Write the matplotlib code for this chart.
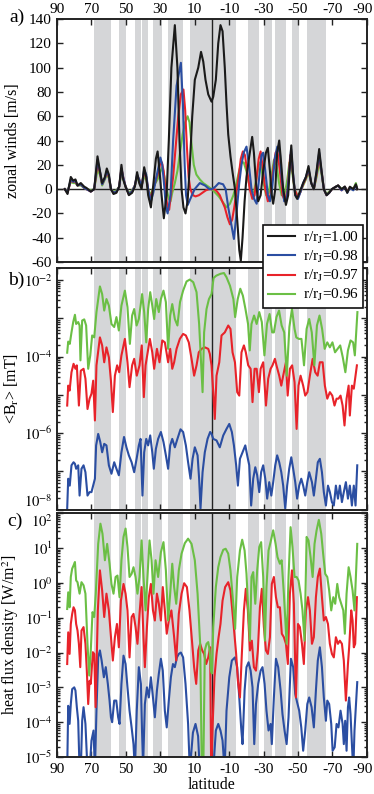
import numpy as np
import matplotlib
matplotlib.use("Agg")
import matplotlib.pyplot as plt
from matplotlib.transforms import ScaledTranslation

plt.rcParams['font.family'] = ['Liberation Serif', 'DejaVu Serif']
plt.rcParams['mathtext.fontset'] = 'stix'
plt.rcParams['axes.unicode_minus'] = False

# ---------------- data ----------------
tick_lats = [90, 70, 50, 30, 10, -10, -30, -50, -70, -90]
tick_labels = ['90', '70', '50', '30', '10', '-10', '-30', '-50', '-70', '-90']
belts = [(68.5, 58.6), (53.8, 49.9), (44.9, 41.4), (40.5, 37.3), (34.1, 29.2),
         (25.5, 17.0), (12.8, -13.9), (-21.1, -27.1), (-30.0, -34.8),
         (-36.4, -42.8), (-46.5, -50.7), (-55.2, -66.2)]
series_labels = ['r/r$_\\mathrm{J}$=1.00', 'r/r$_\\mathrm{J}$=0.98',
                 'r/r$_\\mathrm{J}$=0.97', 'r/r$_\\mathrm{J}$=0.96']
colors = ['#1a1a1a', '#2b4ea2', '#e8232a', '#6bbf45']

# panel a: zonal winds [m/s]
wind_lat_100 = [85.4, 83.8, 81.9, 80.5, 79.2, 78.0, 76.1, 74.1, 72.8, 70.3, 68.3, 66.4, 65.0, 63.7, 62.1,
                61.0, 59.8, 58.6, 57.1, 55.4, 53.8, 52.5, 51.5, 50.1, 48.2, 46.3, 44.7, 43.4, 42.2, 40.8,
                39.3, 38.1, 37.0, 35.4, 33.9, 32.5, 31.5, 30.4, 29.2, 27.9, 26.3, 25.0, 23.5, 21.5, 20.0,
                18.8, 17.6, 16.5, 15.3, 14.1, 12.8, 11.4, 9.9, 7.9, 6.3, 5.0, 3.7, 2.1, 0.2, -0.8,
                -2.3, -3.7, -5.0, -6.2, -7.5, -8.5, -9.5, -10.8, -12.0, -13.4, -14.7, -15.9, -16.8, -17.8, -19.0,
                -20.1, -21.5, -23.4, -24.4, -25.6, -26.9, -28.3, -29.8, -31.4, -32.5, -33.7, -34.8, -35.6, -36.8, -37.9,
                -39.1, -40.3, -41.4, -43.0, -44.3, -45.3, -46.1, -47.2, -48.4, -49.5, -51.1, -53.0, -54.6, -56.1, -57.7,
                -59.2, -60.8, -62.3, -63.7, -65.0, -66.6, -68.1, -69.7, -72.0, -73.3, -75.3, -77.2, -78.6, -80.1, -82.1,
                -83.6, -84.4]
wind_100 = [0, -4, 10, 7, 8, 3, 5, 2, 1, -2, 0, 27, 15, 5, 10,
            17, 12, 0, -4, -3, 2, 20, 8, 2, -5, -3, 2, 14, 5, 0,
            18, 10, -5, -15, 5, 25, 31, 15, -5, -24, -5, 40, 100, 135, 100,
            40, 0, -15, -20, -10, 20, 60, 90, 100, 113, 105, 90, 78, 72, 76,
            90, 120, 135, 130, 100, 70, 45, 27, 14, 0, -25, -50, -59, -40, -10,
            10, 25, 43, 30, 5, -10, -5, 15, 30, 34, 15, -5, -12, 0, 30,
            40, 20, 0, -13, -5, 20, 36, 10, -5, -8, -2, 5, 10, 19, 5,
            0, 15, 33, 15, 0, -5, -3, 0, 2, 3, 0, 2, -3, 2, 0,
            4, 0]

wind_lat_098 = [85.4, 83.8, 81.9, 80.5, 79.2, 78.0, 76.1, 74.1, 72.8, 70.3, 68.3, 66.4, 65.0, 63.7, 62.1,
                61.0, 59.8, 58.6, 57.1, 55.4, 53.8, 52.5, 51.5, 50.1, 48.2, 46.3, 44.7, 43.4, 42.2, 40.8,
                39.3, 38.1, 37.0, 35.4, 34.0, 32.5, 31.0, 29.9, 28.8, 27.5, 26.8, 25.7, 24.0, 22.5, 20.5,
                18.0, 16.8, 15.8, 15.0, 14.0, 12.5, 10.0, 7.0, 4.0, 1.5, 0.0, -2.0, -4.0, -6.5, -8.0,
                -9.5, -11.4, -12.8, -14.3, -15.9, -17.2, -18.5, -20.1, -21.5, -23.0, -24.5, -26.0, -27.5, -28.8, -29.8,
                -31.0, -32.5, -33.7, -35.0, -36.5, -38.0, -39.5, -40.5, -42.0, -43.5, -45.0, -46.0, -47.0, -48.4, -50.0,
                -51.5, -53.0, -54.6, -56.1, -57.7, -59.2, -60.8, -62.3, -63.7, -65.0, -66.6, -68.1, -69.7, -72.0, -73.3,
                -75.3, -77.2, -78.6, -80.1, -82.1, -83.6, -84.4]
wind_098 = [0, -3, 8, 6, 7, 3, 4, 1, 0, -2, 0, 24, 15, 4, 9,
            15, 11, 0, -3, -2, 2, 17, 10, 2, -4, -2, 3, 12, 8, 2,
            16, 12, 0, -10, -3, 8, 18, 26, 20, 0, -14, -20, -5, 40, 85,
            104, 70, 20, -5, -13, -8, 0, 5, 3, 0, 0, 2, 5, 4, 0,
            -15, -30, -41, -20, 5, 20, 30, 35, 20, 0, -8, -12, 10, 28, 30,
            15, -5, -10, 0, 25, 35, 30, 10, -10, -8, 15, 33, 15, -5, -8,
            -2, 5, 10, 17, 5, 0, 14, 30, 14, 0, -5, -3, 0, 2, 3,
            -1, 2, -3, 1, -1, 3, 0]

wind_lat_097 = [85.4, 83.8, 81.9, 80.5, 79.2, 78.0, 76.1, 74.1, 72.8, 70.3, 68.3, 66.4, 65.0, 63.7, 62.1,
                61.0, 59.8, 58.6, 57.1, 55.4, 53.8, 52.5, 51.5, 50.1, 48.2, 46.3, 44.7, 43.4, 42.2, 40.8,
                39.3, 38.1, 37.0, 35.8, 34.5, 33.0, 31.5, 30.2, 29.0, 28.0, 27.0, 25.8, 24.8, 23.8, 22.5,
                21.0, 19.5, 18.0, 16.5, 15.5, 14.5, 13.5, 12.5, 11.0, 9.5, 7.5, 5.5, 3.5, 1.5, 0.0,
                -1.5, -3.0, -4.6, -6.0, -7.5, -9.0, -10.5, -11.8, -13.0, -14.3, -15.5, -16.8, -18.0, -19.2, -20.5,
                -22.0, -23.5, -24.8, -26.0, -27.2, -28.3, -29.5, -31.0, -32.5, -34.0, -35.5, -37.0, -38.0, -39.5, -41.0,
                -42.5, -44.0, -45.5, -46.5, -48.0, -50.0, -51.5, -53.0, -54.6, -56.1, -57.7, -59.2, -60.8, -62.3, -63.7,
                -65.0, -66.6, -68.1, -69.7, -72.0, -73.3, -75.3, -77.2, -78.6, -80.1, -82.1, -83.6, -84.4]
wind_097 = [0, -3, 7, 6, 6, 3, 4, 1, 0, -2, 0, 21, 14, 4, 9,
            14, 10, 0, -3, -2, 2, 17, 10, 2, -4, -2, 3, 11, 8, 2,
            14, 10, 0, -8, -2, 5, 12, 20, 22, 15, 0, -15, -17, -5, 10,
            35, 60, 78, 82, 65, 35, 10, 0, -5, -6, -5, -3, -1, 0, 0,
            0, -2, -5, -10, -15, -23, -29, -25, -15, -2, 10, 25, 31, 28, 15,
            0, -8, -5, 10, 25, 31, 18, 0, -10, -5, 15, 30, 32, 15, -5,
            -10, 0, 28, 20, 0, -7, -2, 4, 9, 16, 5, 0, 12, 27, 14,
            0, -5, -3, 0, 2, 3, -1, 2, -2, 1, 0, 3, 0]

wind_lat_096 = [85.4, 83.8, 81.9, 80.5, 79.2, 78.0, 76.1, 74.1, 72.8, 70.3, 68.3, 66.4, 65.0, 63.7, 62.1,
                61.0, 59.8, 58.6, 57.1, 55.4, 53.8, 52.5, 51.5, 50.1, 48.2, 46.3, 44.7, 43.4, 42.2, 40.8,
                39.3, 38.1, 37.0, 35.8, 34.3, 32.8, 31.5, 30.0, 28.7, 27.5, 26.3, 25.0, 24.0, 23.0, 21.5,
                20.0, 18.5, 17.0, 15.5, 14.1, 13.0, 12.0, 10.5, 9.0, 7.0, 5.0, 3.0, 1.0, 0.0, -2.0,
                -4.0, -6.0, -8.5, -10.5, -12.5, -14.3, -15.8, -17.2, -18.5, -20.0, -21.5, -23.0, -24.5, -26.0, -27.5,
                -28.5, -30.0, -31.5, -33.0, -34.5, -36.0, -37.5, -39.0, -40.5, -42.0, -43.5, -45.0, -46.5, -48.0, -50.0,
                -51.5, -53.0, -54.6, -56.1, -57.7, -59.2, -60.8, -62.3, -63.7, -65.0, -66.6, -68.1, -69.7, -72.0, -73.3,
                -75.3, -77.2, -78.6, -80.1, -82.1, -83.6, -84.4]
wind_096 = [0, -2, 6, 5, 5, 3, 3, 1, 0, -1, 0, 16, 12, 3, 8,
            12, 9, 0, -2, -1, 2, 14, 9, 2, -3, -1, 3, 9, 7, 3,
            10, 8, 0, -5, 0, 5, 8, 14, 18, 10, 0, -8, -10, -3, 5,
            15, 30, 45, 55, 60, 55, 40, 20, 12, 8, 5, 3, 1, 0, -3,
            -6, -10, -15, -12, -5, 5, 15, 22, 22, 15, 5, -3, -2, 10, 22,
            20, 5, -5, -3, 10, 24, 20, 5, -5, -5, 5, 22, 15, 0, -6,
            -2, 3, 8, 14, 5, 0, 10, 22, 12, 0, -4, -2, 0, 2, 3,
            0, 2, -2, 1, 0, 5, 0]

# panel b: <B_r> [mT], stored as log10 values
br_lat_098 = [84.0, 83.4, 82.5, 81.5, 80.3, 79.5, 78.8, 77.6, 76.8, 75.7, 74.5, 73.4, 72.2, 71.0, 69.9,
              68.9, 67.9, 67.2, 66.0, 64.8, 63.7, 62.5, 61.2, 59.8, 58.3, 56.7, 55.4, 54.0, 52.5, 51.0,
              49.6, 48.2, 46.6, 45.1, 43.7, 42.4, 41.4, 40.3, 39.3, 38.1, 37.0, 35.8, 34.6, 33.7, 32.5,
              31.2, 29.6, 28.1, 26.7, 25.4, 24.2, 23.0, 21.5, 20.0, 18.2, 16.7, 15.1, 13.8, 12.4, 11.2,
              9.9, 8.3, 7.4, 6.6, 5.4, 4.1, 2.5, 1.0, 0.2, -0.8, -2.7, -4.6, -6.6, -8.5, -10.1,
              -11.6, -12.8, -14.1, -15.1, -16.3, -17.8, -19.4, -20.5, -21.7, -22.8, -24.0, -25.2, -26.3, -27.5, -28.6,
              -29.8, -31.0, -32.1, -33.3, -34.5, -35.6, -36.8, -37.9, -39.1, -40.3, -41.4, -42.6, -43.7, -44.9, -46.1,
              -47.2, -48.4, -49.5, -50.7, -51.9, -53.0, -54.2, -55.4, -56.5, -58.1, -59.2, -60.4, -61.5, -62.7, -63.9,
              -65.0, -66.2, -67.4, -68.5, -69.7, -70.8, -72.0, -73.2, -74.3, -75.5, -76.6, -77.8, -79.0, -80.1, -81.3,
              -82.4, -83.4, -84.4]
br_log_098 = [-7.97, -7.19, -7.37, -6.84, -6.76, -6.80, -6.93, -6.84, -7.63, -6.93, -6.84, -7.02, -7.63, -7.54, -7.54,
              -7.37, -7.19, -6.32, -6.02, -6.23, -6.50, -6.28, -6.32, -6.84, -7.06, -6.76, -6.93, -7.10, -6.50, -6.10,
              -6.37, -6.58, -6.76, -7.02, -6.67, -6.32, -6.15, -7.63, -6.50, -6.15, -6.32, -6.06, -6.50, -6.93, -6.41,
              -6.15, -5.97, -6.23, -6.58, -6.93, -6.32, -6.15, -6.37, -6.15, -5.90, -5.97, -6.32, -6.76, -7.19, -6.67,
              -6.37, -6.58, -7.19, -7.97, -7.02, -6.50, -6.15, -5.97, -6.02, -6.15, -6.19, -6.37, -6.06, -5.89, -5.76,
              -5.97, -6.32, -6.84, -7.37, -6.67, -6.50, -6.32, -6.58, -6.84, -7.89, -7.19, -6.89, -7.10, -7.54, -7.02,
              -6.84, -7.19, -7.71, -7.28, -7.63, -7.28, -6.84, -6.58, -6.76, -7.02, -7.37, -7.97, -7.37, -6.93, -6.63,
              -6.93, -7.28, -7.71, -7.37, -7.19, -7.37, -7.63, -7.28, -7.02, -7.28, -7.63, -7.19, -6.76, -6.67, -7.02,
              -7.54, -7.89, -7.37, -7.54, -7.80, -7.89, -7.37, -7.71, -7.37, -7.80, -7.54, -7.28, -7.71, -7.37, -7.89,
              -7.37, -7.89, -6.84]

br_lat_097 = [84.0, 83.4, 82.6, 81.5, 80.3, 79.2, 78.4, 77.2, 76.1, 74.5, 73.4, 72.2, 71.0, 69.9, 68.9,
              67.9, 67.0, 65.0, 63.7, 62.5, 61.2, 59.8, 58.6, 57.5, 56.3, 55.0, 53.8, 52.5, 50.5, 49.0,
              47.8, 46.3, 45.1, 43.6, 42.0, 40.7, 39.5, 38.5, 37.3, 36.0, 34.6, 33.5, 31.9, 30.4, 28.8,
              27.3, 25.4, 24.2, 23.0, 21.9, 20.5, 18.6, 16.7, 15.1, 13.4, 11.8, 10.3, 8.9, 7.6, 6.0,
              4.1, 2.1, 1.2, 0.2, -0.8, -1.7, -2.7, -4.3, -5.6, -7.5, -9.5, -10.8, -12.0, -13.4, -14.7,
              -15.9, -17.2, -18.6, -19.7, -21.1, -22.5, -23.6, -24.8, -26.0, -27.3, -28.3, -29.8, -31.4, -32.7, -34.1,
              -35.2, -36.6, -37.5, -39.1, -40.3, -41.4, -43.0, -44.0, -45.3, -46.6, -48.0, -49.2, -50.3, -51.5, -53.0,
              -54.2, -55.5, -56.9, -58.5, -60.0, -61.4, -62.7, -64.3, -65.6, -67.0, -68.5, -69.9, -71.2, -72.4, -73.5,
              -74.7, -75.9, -77.0, -78.2, -79.4, -80.1, -81.3, -82.4, -83.4, -84.2]
br_log_097 = [-5.28, -4.76, -4.89, -4.41, -4.19, -4.32, -4.23, -5.28, -4.37, -4.32, -4.58, -5.37, -5.10, -4.97, -4.63,
              -5.67, -4.23, -3.50, -3.71, -4.15, -3.76, -4.02, -4.63, -5.45, -4.50, -4.23, -4.41, -3.97, -3.54, -4.15,
              -4.80, -4.23, -4.06, -4.50, -4.23, -3.71, -5.06, -4.23, -3.89, -3.54, -3.89, -4.32, -3.80, -4.15, -3.58,
              -3.63, -4.15, -3.80, -4.32, -4.15, -3.80, -3.54, -3.41, -3.45, -3.63, -4.06, -4.50, -4.23, -3.89, -3.80,
              -3.76, -3.80, -3.93, -4.23, -4.93, -5.63, -4.50, -4.15, -3.45, -3.37, -3.19, -3.28, -3.89, -4.15, -4.93,
              -5.02, -3.89, -3.71, -3.89, -4.23, -4.32, -5.19, -4.32, -4.32, -4.93, -4.32, -4.15, -5.28, -4.58, -4.32,
              -4.23, -4.06, -4.23, -4.50, -4.76, -4.50, -4.15, -5.02, -4.32, -4.23, -4.67, -5.89, -4.76, -4.50, -4.76,
              -5.02, -4.93, -4.50, -4.06, -4.41, -4.50, -4.15, -4.15, -4.76, -5.10, -4.93, -5.02, -5.28, -5.10, -5.10,
              -5.02, -5.28, -5.80, -5.10, -4.76, -5.54, -4.76, -4.84, -4.50, -4.23]

br_lat_096 = [84.0, 83.4, 82.5, 81.5, 80.5, 79.5, 78.8, 77.6, 76.8, 76.3, 75.3, 74.1, 73.0, 71.8, 70.6,
              69.5, 68.3, 67.0, 65.0, 63.7, 62.5, 61.2, 59.8, 58.3, 56.7, 55.4, 54.0, 52.5, 50.5, 49.0,
              47.6, 46.3, 45.1, 43.7, 42.4, 40.5, 39.3, 38.1, 37.0, 35.8, 34.6, 33.5, 32.3, 30.8, 29.6,
              28.1, 26.7, 25.4, 24.2, 23.0, 21.5, 20.0, 18.5, 16.7, 14.7, 12.8, 10.8, 8.9, 7.4, 5.4,
              4.5, 3.1, 1.7, 0.2, -1.0, -2.5, -5.0, -7.0, -8.5, -10.5, -12.5, -13.5, -15.0, -16.5, -18.0,
              -19.5, -21.0, -22.0, -23.0, -24.5, -26.0, -27.5, -29.0, -30.5, -32.0, -33.5, -35.0, -36.0, -37.5, -39.0,
              -40.5, -42.0, -43.5, -45.0, -46.5, -48.0, -49.0, -50.5, -52.0, -53.5, -55.0, -56.5, -58.0, -59.5, -61.0,
              -62.5, -64.0, -65.5, -67.0, -68.5, -70.0, -71.5, -73.0, -74.5, -76.0, -77.5, -79.0, -80.5, -82.0, -83.0,
              -84.5]
br_log_096 = [-3.90, -3.61, -3.67, -3.37, -3.10, -2.91, -3.15, -3.10, -3.19, -4.10, -3.06, -3.03, -3.19, -4.32, -3.97,
              -3.45, -3.50, -2.84, -2.17, -2.37, -2.80, -2.50, -2.67, -3.15, -3.23, -2.97, -3.32, -2.67, -2.28, -2.71,
              -3.67, -2.93, -2.76, -3.19, -3.02, -2.37, -2.84, -3.63, -2.76, -2.32, -2.67, -3.02, -2.50, -2.84, -2.50,
              -2.28, -2.58, -3.80, -2.93, -2.63, -3.02, -3.19, -2.58, -2.28, -2.04, -1.99, -2.06, -2.32, -3.15, -4.93,
              -3.37, -2.76, -2.50, -2.37, -1.95, -1.89, -1.84, -1.82, -1.93, -2.15, -2.50, -2.97, -2.50, -2.23, -2.41,
              -2.76, -3.15, -3.84, -3.15, -2.93, -3.15, -2.84, -3.10, -3.97, -3.15, -2.89, -3.37, -3.37, -2.97, -2.80,
              -3.19, -3.37, -4.50, -3.23, -2.76, -3.28, -3.50, -3.54, -3.54, -4.23, -3.28, -3.02, -3.37, -4.23, -3.19,
              -2.93, -3.28, -3.80, -3.63, -3.76, -3.63, -3.89, -3.80, -3.71, -4.02, -4.41, -3.84, -3.58, -3.63, -3.97,
              -2.84]

# panel c: heat flux density [W/m^2], stored as log10 values
hf_lat_098 = [84.0, 83.4, 82.6, 81.9, 81.1, 79.9, 79.2, 78.4, 77.6, 76.8, 76.1, 75.3, 74.5, 73.4, 72.2,
              71.0, 69.9, 68.7, 67.9, 67.0, 66.0, 65.0, 64.0, 62.7, 61.6, 60.4, 59.4, 58.6, 57.9, 56.7,
              55.5, 54.4, 53.6, 52.5, 51.3, 50.1, 49.0, 47.8, 46.6, 45.5, 44.7, 43.6, 42.4, 41.2, 40.0,
              38.9, 37.7, 36.6, 35.4, 34.2, 33.1, 31.9, 30.8, 29.6, 28.5, 27.3, 26.2, 25.0, 23.8, 22.6,
              21.5, 20.3, 19.2, 18.0, 16.7, 15.3, 13.8, 12.8, 11.0, 9.5, 8.0, 7.0, 1.0, -0.8, -2.3,
              -3.7, -5.0, -6.2, -7.4, -8.5, -10.1, -11.6, -13.4, -14.7, -15.9, -17.0, -17.8, -19.0, -20.1, -21.3,
              -22.5, -23.6, -24.6, -25.6, -26.9, -28.3, -29.4, -30.6, -31.7, -32.9, -34.1, -34.8, -36.0, -37.2, -38.5,
              -39.9, -41.0, -42.2, -43.4, -44.5, -45.9, -47.2, -48.4, -49.5, -50.7, -51.9, -53.0, -54.2, -55.4, -56.5,
              -57.9, -59.2, -60.4, -61.5, -62.7, -63.9, -65.0, -66.2, -67.0, -68.1, -69.3, -70.1, -71.3, -72.4, -73.5,
              -74.7, -75.9, -76.6, -77.4, -78.2, -79.0, -79.7, -80.5, -81.3, -82.1, -82.8, -83.6, -84.4]
hf_log_098 = [-5.4, -3.53, -4.05, -3.48, -3.05, -3.00, -3.09, -3.57, -3.96, -5.4, -5.4, -3.96, -3.57, -4.05, -5.4,
              -5.4, -4.53, -4.24, -5.4, -3.67, -2.14, -1.94, -2.23, -2.71, -2.42, -2.90, -3.38, -3.86, -4.00, -3.38,
              -3.38, -3.86, -4.05, -2.90, -2.09, -2.33, -3.00, -3.67, -4.15, -4.63, -5.4, -3.67, -2.42, -2.90, -5.4,
              -3.48, -3.00, -3.29, -2.71, -3.29, -3.86, -3.09, -2.61, -2.18, -2.52, -3.67, -4.15, -3.38, -2.71, -2.33,
              -2.42, -2.14, -2.04, -2.00, -2.14, -2.90, -4.05, -5.4, -4.30, -4.05, -4.40, -5.4, -5.4, -5.4, -4.24,
              -4.05, -4.24, -4.53, -5.4, -3.67, -2.71, -2.23, -2.14, -2.42, -3.29, -4.15, -4.63, -3.09, -2.42, -2.28,
              -2.52, -3.00, -4.63, -3.48, -2.90, -2.52, -2.42, -2.90, -3.67, -4.24, -4.05, -4.63, -3.29, -2.18, -2.42,
              -3.09, -3.77, -4.24, -4.63, -3.86, -2.18, -2.42, -3.19, -3.43, -3.67, -4.15, -4.82, -4.24, -3.48, -3.29,
              -3.57, -4.15, -3.09, -2.23, -1.85, -2.42, -3.29, -3.96, -3.38, -3.48, -4.05, -4.82, -4.72, -4.05, -4.15,
              -3.67, -4.05, -4.63, -3.96, -4.82, -3.57, -3.29, -3.77, -4.63, -5.4, -4.24, -3.57, -2.85]

hf_lat_097 = [84.0, 83.4, 82.6, 81.9, 81.1, 80.3, 79.5, 78.8, 78.0, 77.2, 76.4, 75.7, 74.5, 73.4, 72.6,
              71.8, 71.0, 70.3, 69.1, 68.3, 67.5, 66.2, 65.0, 63.7, 62.5, 61.2, 59.8, 58.6, 57.5, 56.3,
              55.1, 54.0, 52.8, 51.3, 50.1, 49.0, 47.8, 46.6, 45.5, 44.3, 43.2, 42.0, 40.8, 39.7, 38.9,
              37.7, 36.6, 35.4, 34.2, 33.1, 31.9, 30.8, 29.6, 28.5, 27.3, 26.2, 25.0, 23.5, 21.9, 20.7,
              19.2, 17.6, 16.1, 14.5, 13.0, 11.4, 10.3, 9.1, 7.9, 6.8, 5.6, 4.5, 3.3, 2.1, 1.0,
              0.4, -0.4, -1.5, -2.7, -3.9, -5.0, -6.2, -7.7, -9.5, -10.8, -12.4, -14.1, -15.1, -16.3, -17.4,
              -18.6, -19.7, -20.9, -22.1, -23.2, -24.4, -25.6, -26.7, -27.9, -29.0, -30.2, -31.4, -32.5, -33.7, -34.8,
              -36.0, -37.2, -38.3, -39.5, -40.6, -41.8, -43.0, -44.1, -45.3, -46.5, -47.6, -48.8, -50.0, -51.1, -52.3,
              -53.4, -54.6, -55.8, -56.9, -58.1, -59.2, -60.4, -61.5, -62.7, -63.9, -65.0, -66.2, -67.4, -68.5, -69.7,
              -70.8, -72.0, -73.2, -74.3, -75.5, -76.6, -77.8, -79.0, -79.7, -80.9, -81.7, -82.4, -83.2, -84.2]
hf_log_097 = [-2.33, -1.42, -2.04, -1.18, -0.89, -0.70, -0.79, -1.18, -1.37, -1.75, -2.42, -1.37, -1.27, -1.75, -2.52,
              -3.48, -2.81, -2.90, -1.99, -2.04, -3.57, -0.79, 0.36, -0.22, -0.98, -0.31, -0.79, -1.56, -2.23, -1.56,
              -1.18, -1.85, -0.51, -0.03, -0.31, -0.79, -2.14, -0.98, -0.89, -1.27, -1.75, -0.89, -0.12, -1.56, -2.42,
              -1.27, -0.41, -0.03, -0.79, -1.08, -0.31, -0.60, -1.08, -0.12, -0.79, -1.46, -1.08, -0.79, -1.56, -2.23,
              -0.89, -0.31, -0.01, -0.12, -0.79, -1.75, -2.42, -2.90, -1.94, -1.75, -1.94, -2.04, -2.33, -2.14, -1.85,
              -5.5, -4.15, -2.71, -2.04, -1.56, -1.18, -0.51, -0.12, 0.02, -0.22, -1.08, -2.04, -2.81, -3.29, -2.04,
              -0.79, -0.17, -0.79, -1.94, -1.66, -2.42, -2.52, -1.94, -0.70, -0.17, -1.27, -1.94, -2.04, -1.56, -0.03,
              0.17, -0.41, -0.70, -0.70, -1.46, -1.56, -1.75, -2.33, -0.31, 0.36, -0.60, -3.29, -1.18, -1.27, -1.75,
              -2.33, -0.79, -0.41, -0.79, -1.75, -1.56, -0.41, 0.17, 0.41, -0.41, -1.08, -0.98, -1.18, -1.75, -2.04,
              -2.14, -1.56, -1.75, -1.66, -1.75, -2.23, -3.38, -2.33, -1.85, -0.79, -1.08, -1.85, -1.75, -0.41]

hf_lat_096 = [84.0, 83.4, 82.6, 81.9, 81.1, 80.3, 79.5, 78.8, 78.0, 76.8, 75.7, 74.5, 73.4, 72.2, 71.2,
              70.3, 69.3, 68.3, 67.4, 66.0, 64.7, 63.5, 62.1, 60.8, 59.4, 58.3, 57.1, 55.9, 54.8, 53.6,
              52.5, 51.3, 50.1, 49.0, 47.8, 46.6, 45.5, 44.3, 43.2, 42.0, 40.8, 39.7, 38.5, 37.4, 36.2,
              35.0, 33.9, 32.7, 31.2, 29.6, 28.1, 26.7, 25.4, 24.2, 23.0, 21.9, 20.7, 19.2, 17.6, 15.7,
              13.8, 11.8, 9.9, 8.3, 6.8, 5.8, 5.0, 4.1, 3.1, 2.1, 1.3, 0.5, 0.0, -0.8, -2.3,
              -3.7, -5.0, -6.6, -8.0, -9.5, -10.8, -12.4, -13.5, -14.7, -16.3, -17.6, -19.0, -20.1, -21.3, -22.1,
              -23.0, -24.0, -25.2, -26.3, -27.5, -28.6, -29.8, -30.8, -31.7, -32.9, -34.3, -35.6, -37.0, -38.1, -39.5,
              -40.5, -41.8, -43.4, -44.5, -45.7, -46.8, -48.0, -49.2, -50.3, -51.5, -52.6, -53.8, -55.0, -56.1, -57.3,
              -58.5, -59.6, -60.8, -62.1, -63.5, -64.6, -65.8, -67.0, -68.1, -69.3, -70.5, -71.6, -72.8, -73.9, -75.1,
              -76.3, -77.2, -78.2, -79.4, -80.5, -81.7, -82.8, -83.6, -84.4]
hf_log_096 = [-0.75, -0.27, -0.70, 0.17, 0.41, 0.50, 0.60, 0.07, 0.02, -0.31, 0.02, -0.07, -0.31, -1.75, -2.66,
              -1.94, -0.84, -0.98, -0.31, 1.12, 1.70, 1.41, 0.65, 1.12, 0.55, -0.03, -0.31, 0.17, 0.21, -0.41,
              0.65, 1.32, 1.56, 1.03, 0.17, 0.26, 0.45, 0.17, -0.31, 0.17, 1.22, 0.17, -0.79, 0.17, 1.22,
              0.65, -0.31, 0.65, 0.17, 0.88, 1.17, 0.36, -1.08, -0.31, 0.55, -0.12, -0.60, 0.36, 0.84, 1.14,
              1.27, 1.12, 0.65, -0.31, -1.75, -5.5, -5.5, -1.94, -1.75, -1.70, -1.94, -2.52, -2.60, -1.27, -0.12,
              0.45, 0.74, 0.95, 0.98, 0.84, 0.36, -0.60, -1.32, 0.17, 0.93, 1.24, 0.93, 0.26, -0.98, -1.66,
              0.17, 0.31, -0.60, 0.36, 1.03, 1.17, 0.17, -1.66, -0.12, 0.93, 1.22, 1.51, 1.12, 0.74, 0.55,
              0.65, -0.31, -1.75, 0.17, 1.60, 1.03, 0.17, 0.17, 0.07, -0.31, -0.79, -1.66, 1.32, 1.22, 0.74,
              0.17, 1.12, 1.51, 1.81, 1.41, 0.84, 0.26, 0.17, -0.22, -0.79, -0.41, -0.60, -0.03, -0.41, -0.60,
              -0.79, -1.46, -0.31, 0.45, 0.17, -0.22, -0.79, 0.17, 1.12]

# ---------------- figure ----------------
W, H = 374, 794
fig = plt.figure(figsize=(W / 100, H / 100), dpi=100)
ax_a = fig.add_axes([0.152, 0.670, 0.829, 0.306])
ax_b = fig.add_axes([0.152, 0.358, 0.829, 0.305])
ax_c = fig.add_axes([0.152, 0.0466, 0.829, 0.307])

belt_color = '#d5d6d8'
lw = 1.5
fs = 11

for ax in (ax_a, ax_b, ax_c):
    for (n, s) in belts:
        ax.axvspan(s, n, color=belt_color, lw=0, zorder=0)
    ax.axvline(0, color='#222222', lw=1.0, zorder=1)
    ax.set_xlim(90, -90)
    ax.set_xticks(tick_lats)
    ax.tick_params(axis='both', which='both', direction='in', top=True, right=True,
                   labelsize=fs, width=1.0, color='#222222')
    ax.tick_params(axis='both', which='major', length=4)
    ax.tick_params(axis='both', which='minor', length=2)
    for sp in ax.spines.values():
        sp.set_linewidth(1.4)
        sp.set_color('#222222')
    ax.yaxis.set_label_coords(-0.116, 0.5)

# panel a
ax_a.axhline(0, color='#222222', lw=1.0, zorder=1)
wind_lats = [wind_lat_100, wind_lat_098, wind_lat_097, wind_lat_096]
wind_vals = [wind_100, wind_098, wind_097, wind_096]
handles = [None] * 4
for k in [3, 2, 1, 0]:
    h, = ax_a.plot(wind_lats[k], wind_vals[k], color=colors[k], lw=lw, zorder=2 + (3 - k))
    handles[k] = h
ax_a.set_ylim(-60, 140)
ax_a.set_yticks(np.arange(-60, 141, 20))
ax_a.tick_params(axis='x', labeltop=True, labelbottom=False, pad=2)
ax_a.set_xticklabels(tick_labels)
ax_a.set_ylabel('zonal winds [m/s]', fontsize=fs + 0.5)

# panel b
br_lats = [br_lat_098, br_lat_097, br_lat_096]
br_logs = [br_log_098, br_log_097, br_log_096]
for k, (la, lg) in enumerate(zip(br_lats, br_logs)):
    ax_b.plot(la, 10.0 ** np.array(lg), color=colors[k + 1], lw=lw, zorder=2)
ax_b.set_yscale('log')
ax_b.set_ylim(1e-8, 2.1e-2)
ax_b.set_yticks([1e-8, 1e-7, 1e-6, 1e-5, 1e-4, 1e-3, 1e-2])
ax_b.set_yticklabels(['$10^{-8}$', '', '$10^{-6}$', '', '$10^{-4}$', '', '$10^{-2}$'])
ax_b.tick_params(axis='y', labelsize=10.5, pad=3)
ax_b.get_yticklabels()[0].set_va('bottom')
ax_b.set_xticklabels([])
ax_b.set_ylabel('<B$_\\mathrm{r}$> [mT]', fontsize=fs + 0.5)

# panel c
hf_lats = [hf_lat_098, hf_lat_097, hf_lat_096]
hf_logs = [hf_log_098, hf_log_097, hf_log_096]
for k, (la, lg) in enumerate(zip(hf_lats, hf_logs)):
    ax_c.plot(la, 10.0 ** np.array(lg), color=colors[k + 1], lw=lw, zorder=2)
ax_c.set_yscale('log')
ax_c.set_ylim(1e-5, 1e2)
ax_c.set_yticks([1e-5, 1e-4, 1e-3, 1e-2, 1e-1, 1e0, 1e1, 1e2])
ax_c.set_yticklabels(['$10^{-5}$', '$10^{-4}$', '$10^{-3}$', '$10^{-2}$', '$10^{-1}$',
                      '$10^{0}$', '$10^{1}$', '$10^{2}$'])
ax_c.tick_params(axis='y', labelsize=10.5, pad=3)
ax_c.get_yticklabels()[-1].set_va('top')
ax_c.set_xticklabels(tick_labels)
ax_c.tick_params(axis='x', pad=4.5)
ax_c.set_xlabel('latitude', fontsize=fs + 0.5, labelpad=0.5)
ax_c.set_ylabel('heat flux density [W/m$^2$]', fontsize=fs + 0.5)

# nudge the right-most latitude labels so they stay inside the figure
shift = ScaledTranslation(-3 / 72, 0, fig.dpi_scale_trans)
for ax in (ax_a, ax_c):
    for lbl in ax.get_xticklabels():
        if lbl.get_text() == '-90':
            lbl.set_transform(lbl.get_transform() + shift)

# panel letters (right edge x, centre y in pixels)
for lab, xr, yc in (('a)', 25, 17), ('b)', 24, 280), ('c)', 23, 521)):
    fig.text(xr / W, 1 - yc / H, lab, fontsize=14, ha='right', va='center')

leg = fig.legend([handles[0], handles[1], handles[2], handles[3]], series_labels, loc='upper left',
                 bbox_to_anchor=(263 / W, 1 - 225 / H), fontsize=fs, frameon=True,
                 fancybox=False, edgecolor='#111111', framealpha=1.0,
                 handlelength=1.8, handletextpad=0.5, borderpad=0.3, labelspacing=0.2,
                 borderaxespad=0.0)
leg.get_frame().set_linewidth(1.2)

fig.savefig('out.png', dpi=100)
